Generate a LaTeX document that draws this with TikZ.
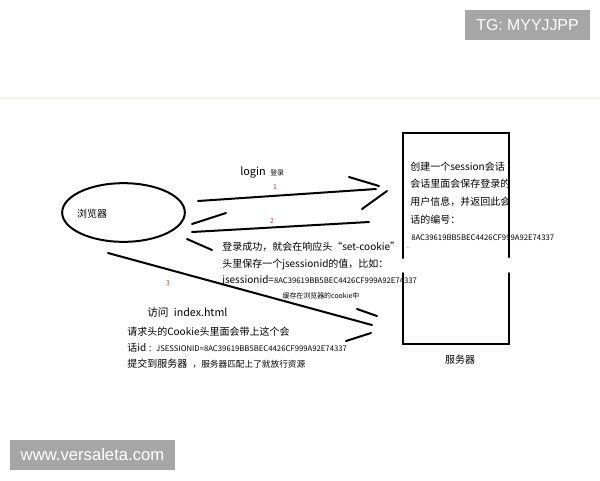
\documentclass[tikz,border=0pt]{standalone}
\usepackage{fontspec}
\setmainfont{Noto Sans CJK SC}
\newfontfamily\wmfont{Liberation Sans}
\usetikzlibrary{shapes.geometric}

\definecolor{numred}{RGB}{192,57,63}
\definecolor{wmgray}{RGB}{166,166,166}
\definecolor{sepbeige}{RGB}{244,244,234}

\tikzset{
  pen/.style={line width=1.5pt, line cap=round},
  txt/.style={inner sep=0pt, font=\fontsize{7.5}{9}\selectfont},
  ltxt/.style={txt, anchor=west},
  tiny/.style={inner sep=0pt, font=\fontsize{5.2}{6}\selectfont},
  numlbl/.style={tiny, text=numred},
  wmbox/.style={fill=wmgray, text=white, inner sep=0pt, font=\wmfont\fontsize{11.9}{13}\selectfont}
}

\newcommand{\sidnum}{{\fontsize{5.8}{6}\selectfont 8AC39619BB5BEC4426CF999A92E74337}}

\begin{document}
\begin{tikzpicture}[x=0.75pt,y=0.75pt,yscale=-1,xscale=1]
\useasboundingbox (0,0) rectangle (600,480);

%Straight Lines (page separator)
\draw [color=sepbeige, line width=1.2pt] (0,98) -- (600,98) ;

% watermark boxes
\fill [wmgray] (465,10) rectangle (590,40) ;
\node (tgmark) [wmbox] at (527.5,25) {TG: MYYJJPP};
\fill [wmgray] (10,440) rectangle (175,470) ;
\node (sitemark) [wmbox, font=\wmfont\fontsize{12.5}{14}\selectfont] at (92.5,455) {www.versaleta.com};

%Shape: Ellipse
\node (browser) [ellipse, draw, pen, minimum width=92pt, minimum height=44pt, inner sep=0pt] at (123.5,212.5) {};
\node (browserlbl) [txt] at (92,214) {浏览器};

%Shape: Rectangle (open at both sides)
\coordinate (server) at (456,238.5);
\draw [pen] (403,258) |- (509,133) -- (509,257) ;
\draw [pen] (403,273) |- (509,344) -- (509,273) ;
\node (serverlbl) [txt] at (460,360) {服务器};

%Straight Lines 1
\coordinate (a1s) at (198,201);
\coordinate (a1e) at (376,189);
\draw [pen] (a1s) -- (a1e) ;
\draw [pen] (a1e) ++(-27,-12) -- ++(30,9) ;
\draw [pen] (a1e) ++(-14,20) -- ++(25,-18) ;

%Straight Lines 2
\coordinate (a2s) at (369,222);
\coordinate (a2e) at (192,232);
\draw [pen] (a2s) -- (a2e) ;
\draw [pen] (a2e) ++(34,-19) -- ++(-34,11) ;
\draw [pen] (a2e) ++(20,18) -- ++(-25,-11) ;

%Straight Lines 3
\coordinate (a3s) at (108,253);
\coordinate (a3e) at (372,325);
\draw [pen] (a3s) -- (a3e) ;
\draw [pen] (a3e) ++(-15,-16) -- ++(20,7) ;
\draw [pen] (a3e) ++(-26,16) -- ++(25,-8) ;

% Text Node
\node (loginlbl) [ltxt, font=\fontsize{8.2}{9}\selectfont] at (240,173) {login};
\node (loginzh) [tiny, anchor=west] at (270,173) {登录};
\node (num1) [numlbl] at (275,187) {1};
\node (num2) [numlbl] at (272,221) {2};
\node (num3) [numlbl] at (168,283) {3};

% Text Node
\node (resp1) [ltxt] at (222,247) {登录成功，就会在响应头“set-cookie”};
\node (resp2) [ltxt] at (222,264) {头里保存一个jsessionid的值，比如：};
\node (resp3) [ltxt] at (222,281) {jsessionid=\sidnum};
\node (respnote) [tiny] at (321,296) {缓存在浏览器的cookie中};

% Text Node
\node (visit) [ltxt, font=\fontsize{8}{9}\selectfont] at (147,312) {访问\hspace{4pt}index.html};
\node (req1) [ltxt] at (127,332) {请求头的Cookie头里面会带上这个会};
\node (req2) [ltxt] at (127,348) {话id {\fontsize{5.8}{6}\selectfont ：JSESSIONID=}\sidnum};
\node (req3) [ltxt] at (127,364) {提交到服务器\hspace{4pt}{\fontsize{6.5}{7}\selectfont ，服务器匹配上了就放行资源}};

% Text Node
\node (srv1) [ltxt] at (410,167) {创建一个session会话};
\node (srv2) [ltxt] at (410,184) {会话里面会保存登录的};
\node (srv3) [ltxt] at (410,202) {用户信息，并返回此会};
\node (srv4) [ltxt] at (410,220) {话的编号：};
\node (srvid) [ltxt] at (411,238) {\sidnum};
\node (srvdot) [tiny] at (408,248) {.};

\end{tikzpicture}
\end{document}
